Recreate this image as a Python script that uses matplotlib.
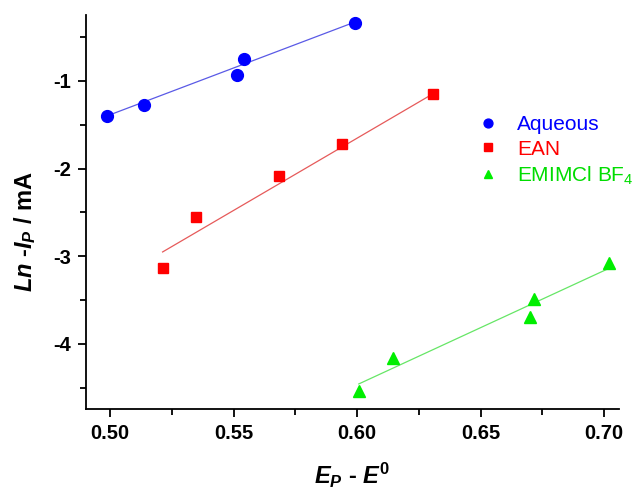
import numpy as np
import matplotlib
matplotlib.use("Agg")
import matplotlib.pyplot as plt

plt.rcParams['font.family'] = ['Liberation Sans', 'DejaVu Sans']
plt.rcParams['axes.unicode_minus'] = False
plt.rcParams['mathtext.fontset'] = 'custom'
plt.rcParams['mathtext.rm'] = 'Liberation Sans:bold'
plt.rcParams['mathtext.it'] = 'Liberation Sans:italic:bold'
plt.rcParams['mathtext.bf'] = 'Liberation Sans:bold'
plt.rcParams['mathtext.sf'] = 'Liberation Sans'
plt.rcParams['mathtext.bfit'] = 'Liberation Sans:italic:bold'

aq_x = [0.4987, 0.5138, 0.5513, 0.5544, 0.5990]
aq_y = [-1.40, -1.277, -0.928, -0.752, -0.338]
ean_x = [0.5213, 0.5347, 0.5686, 0.5938, 0.6309]
ean_y = [-3.135, -2.556, -2.09, -1.719, -1.152]
em_x = [0.6007, 0.6147, 0.6700, 0.6718, 0.7020]
em_y = [-4.54, -4.166, -3.69, -3.49, -3.08]

# linear fit lines as shown in the chart (slope, intercept)
fit_slope = [10.68, 16.5, 13.03]
fit_intercept = [-6.726, -11.553, -12.285]

labels = ['Aqueous', 'EAN', r'EMIMCl BF$_\mathsf{4}$']

fig = plt.figure(figsize=(6.42, 5.0), dpi=100)
ax = fig.add_axes([86/642, 91/500, 533/642, 394/500])

styles = [
    ('o', '#0000ff', '#5a5ae6', 8.5, '#0000ff'),
    ('s', '#ff0000', '#e65a5a', 7, '#ff0000'),
    ('^', '#00ee00', '#66e666', 8.5, '#00dd00'),
]
data = [(aq_x, aq_y), (ean_x, ean_y), (em_x, em_y)]
handles = []
for i, ((x, y), (m, c, lc, ms, tc)) in enumerate(zip(data, styles)):
    x = np.array(x); y = np.array(y)
    xs = np.array([x.min(), x.max()])
    ax.plot(xs, fit_slope[i] * xs + fit_intercept[i], color=lc, lw=0.9, zorder=2)
    h, = ax.plot(x, y, m, color=c, ms=ms, mec=c, ls='none', label=labels[i], zorder=3)
    handles.append(h)

ax.set_xlim(0.4903, 0.706)
ax.set_ylim(-4.744, -0.247)
ax.set_xticks([0.50, 0.55, 0.60, 0.65, 0.70])
ax.set_xticklabels(['0.50', '0.55', '0.60', '0.65', '0.70'])
ax.set_xticks(np.arange(0.525, 0.70, 0.05), minor=True)
ax.set_yticks([-4, -3, -2, -1])
ax.set_yticks([-4.5, -3.5, -2.5, -1.5, -0.5], minor=True)
for s in ['top', 'right']:
    ax.spines[s].set_visible(False)
for s in ['left', 'bottom']:
    ax.spines[s].set_linewidth(1.3)
ax.tick_params(which='major', direction='out', length=6, width=1.3, labelsize=14.5, pad=5)
ax.tick_params(which='minor', direction='out', length=4, width=1.3)
for t in ax.get_xticklabels() + ax.get_yticklabels():
    t.set_fontweight('bold')

ax.set_xlabel(r'$E_P$ - $E^0$', fontsize=17, fontweight='bold', labelpad=13)
ax.set_ylabel(r'$Ln$ -$I_P$ / mA', fontsize=17, fontweight='bold')
ax.yaxis.set_label_coords(-0.09, 0.449)

leg = ax.legend(handles=handles, loc='upper left', bbox_to_anchor=(0.715, 0.767),
                frameon=False, fontsize=15, handletextpad=0.8, labelspacing=0.27,
                handlelength=1.2, markerscale=0.75, borderaxespad=0)
for t, st in zip(leg.get_texts(), styles):
    t.set_color(st[4])
    t.set_fontweight('normal')

fig.savefig('out.png', dpi=100)
